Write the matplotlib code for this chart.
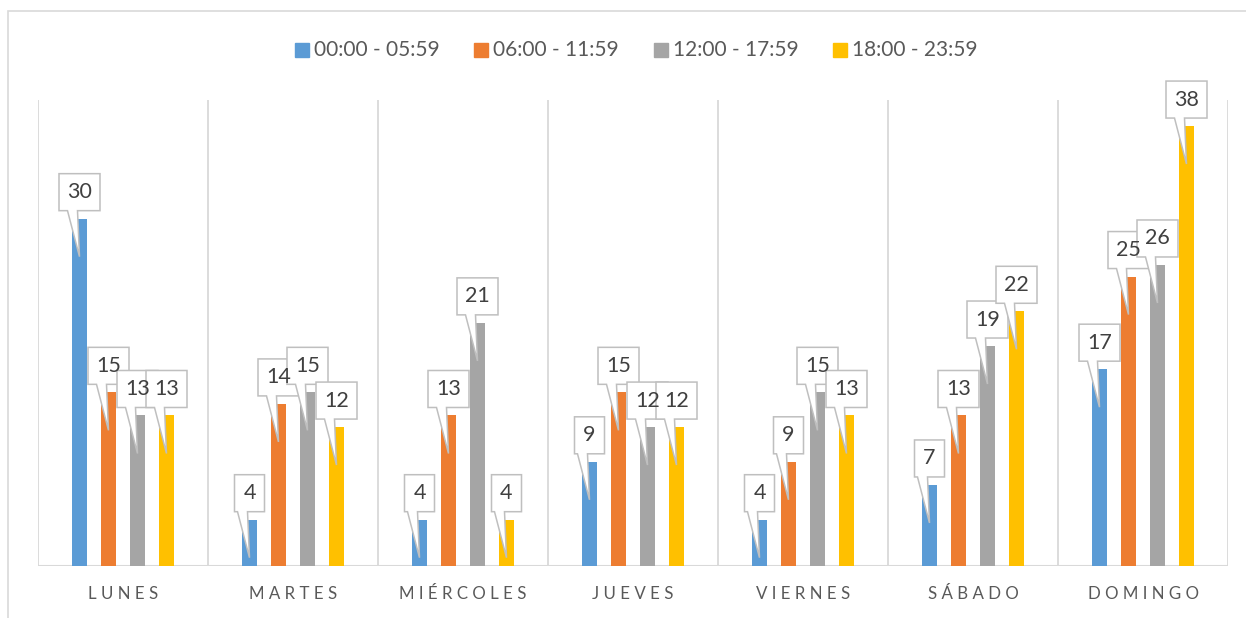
import numpy as np
import matplotlib.pyplot as plt
import matplotlib.transforms as mtransforms
from matplotlib.patches import Polygon, Rectangle

plt.rcParams['font.family'] = ['Lato', 'DejaVu Sans']

dias = ['LUNES', 'MARTES', 'MIÉRCOLES', 'JUEVES', 'VIERNES', 'SÁBADO', 'DOMINGO']
franjas = ['00:00 - 05:59', '06:00 - 11:59', '12:00 - 17:59', '18:00 - 23:59']
madrugada = [30, 4, 4, 9, 4, 7, 17]
manana = [15, 14, 13, 15, 9, 13, 25]
tarde = [13, 15, 21, 12, 15, 19, 26]
noche = [13, 12, 4, 12, 13, 22, 38]
colores = ['#5B9BD5', '#ED7D31', '#A5A5A5', '#FFC000']

W, H = 1246, 618
fig = plt.figure(figsize=(W / 100, H / 100), dpi=100)
ax = fig.add_axes([38 / W, 52 / H, 1190 / W, 466 / H])
ax.set_xlim(-0.5, 6.5)
ax.set_ylim(0, 40.25)
for s in ax.spines.values():
    s.set_visible(False)
ax.set_yticks([])
ax.set_xticks([])

gris = '#D9D9D9'
for b in np.arange(-0.5, 7, 1):
    ax.axvline(b, color=gris, lw=1.3, zorder=1)
ax.axhline(0, color=gris, lw=1.5, zorder=1)

# borde exterior del grafico
fig.patches.append(Rectangle((8 / W, -0.1), 1.2, 1 - 11 / H + 0.1, transform=fig.transFigure,
                             fill=False, edgecolor=gris, lw=1.2))

x = np.arange(len(dias))
paso = 29 / 170
ancho = 15 / 170
series = [madrugada, manana, tarde, noche]


def callout(xc, y, texto):
    # caja con cola, medidas en pixeles respecto a la parte alta de la barra
    w = 19 + 11 * len(texto)
    verts = [(-w / 2, 8), (-12, 8), (0, -38), (-2, 8), (w / 2, 8), (w / 2, 45), (-w / 2, 45)]
    tr = (mtransforms.Affine2D().scale(0.01) + fig.dpi_scale_trans
          + mtransforms.ScaledTranslation(xc, y, ax.transData))
    ax.add_patch(Polygon(verts, closed=True, transform=tr, facecolor='white',
                         edgecolor='#BFBFBF', lw=1.1, zorder=4, clip_on=False))
    ax.annotate(texto, (xc, y), xytext=(0, 26.5), textcoords='offset pixels',
                ha='center', va='center', fontsize=15.5, color='#404040',
                zorder=5, annotation_clip=False)


for i, vals in enumerate(series):
    pos = x + (i - 1.5) * paso
    ax.bar(pos, vals, width=ancho, color=colores[i], zorder=2)
for i, vals in enumerate(series):
    pos = x + (i - 1.5) * paso
    for xc, v in zip(pos, vals):
        callout(xc, v, str(v))

for xi, d in zip(x, dias):
    ax.text(xi, -2.4, ' '.join(d), ha='center', va='center', fontsize=12.2,
            color='#595959')

# leyenda
for i, (lab, c) in enumerate(zip(franjas, colores)):
    x0 = 295 + 179.3 * i
    fig.patches.append(Rectangle((x0 / W, 1 - 57 / H), 14 / W, 14 / H,
                                 transform=fig.transFigure, color=c))
    fig.text((x0 + 19) / W, 1 - 50 / H, lab, ha='left', va='center',
             fontsize=15, color='#595959')

fig.savefig('out.png', dpi=100)
